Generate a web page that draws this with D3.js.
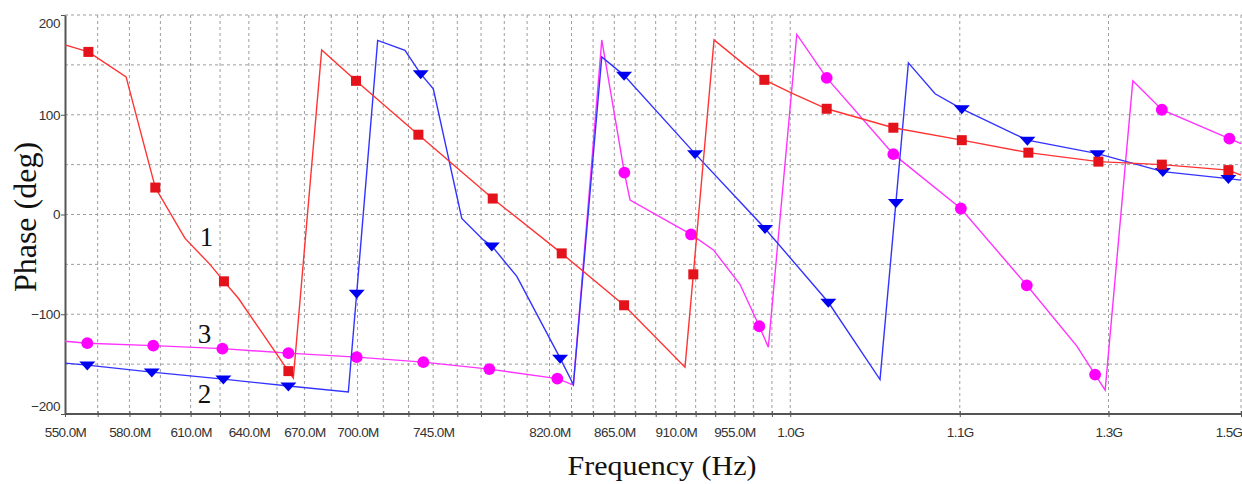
<!DOCTYPE html>
<html>
<head>
<meta charset="utf-8">
<script src="https://cdn.jsdelivr.net/npm/d3@7/dist/d3.min.js"></script>
<style>
  body { margin: 0; background: #fff; }
  svg { display: block; }
</style>
</head>
<body>
<svg id="chart" width="1242" height="484"></svg>
<script>
// frequency in MHz, phase in degrees
var redPts = [[550,170],[560.7,163],[578.4,138],[592.5,27],[607.2,-24],[619.8,-50],[627.0,-67],[634.5,-84],
  [661.2,-157],[663.9,-164],[679.6,165],[699.1,134],[736.0,80],[782.5,16],[828.3,-39],[872.0,-91],
  [916.9,-153],[923.2,-60],[939.1,175],[962.1,151],[978.9,135],[1002.6,121],[1030.5,106],[1088.7,87],
  [1151.9,74.5],[1216.9,62],[1289.2,53],[1358.4,50],[1435.0,44.5],[1450,39.5]];
var redMarks = [1,3,6,8,11,12,13,14,15,17,20,22,23,24,25,26,27,28];

var bluePts = [[550,-149],[560.2,-151],[590.8,-158],[626.7,-165],[661.2,-172],[694.7,-178],[699.5,-79],
  [711.7,174.5],[727.9,164.5],[737.4,141],[745.1,126],[762.8,-4],[776.5,-25.5],[781.9,-31.5],[798.2,-62],
  [827.2,-144],[836.3,-170.5],[856.1,158],[872.0,139.5],[924.5,61],[979.4,-14],[1031.9,-88],[1076.8,-165.5],
  [1091,12],[1102.3,152],[1126.8,121],[1151.9,106],[1215.9,74.5],[1288.2,61],[1359.5,43],[1435.0,36],[1450,34.5]];
var blueMarks = [1,2,3,4,6,9,13,15,18,19,20,21,23,26,27,28,29,30];

var pinkPts = [[550,-127],[560.2,-129],[591.5,-131.5],[626.2,-134.5],[661.2,-139],[699.5,-143],[739.0,-148],
  [780.3,-155],[825.3,-164.5],[836.3,-171],[856.1,175],[872.2,42],[876.3,14.5],[921.5,-20],[938.6,-35.5],
  [959.4,-70],[974.8,-112],[982.1,-133],[1005.4,180.5],[1030.5,137],[1088.7,60.5],[1151.0,6],[1215.3,-71],
  [1266.5,-132],[1285.7,-160.5],[1296.4,-176],[1326.3,134],[1358.4,105],[1436.2,76],[1450,71]];
var pinkMarks = [1,2,3,4,5,6,7,8,11,13,16,19,20,21,22,24,27,28];

var xTicks = d3.range(550, 1001, 15).concat([1150, 1300, 1450]);
var xLabelVals = [550,580,610,640,670,700,745,820,865,910,955,1000,1150,1300,1450];
var xLabelText = ["550.0M","580.0M","610.0M","640.0M","670.0M","700.0M","745.0M","820.0M",
  "865.0M","910.0M","955.0M","1.0G","1.1G","1.3G","1.5G"];
var yLabelVals = [-200,-100,0,100,200];
var yGrid = [-150,-100,-50,0,50,100,150,200];

var curveNames = [{t:"1", f:618, p:-31.5}, {t:"3", f:617, p:-128.5}, {t:"2", f:617, p:-188.5}];

var svg = d3.select("#chart");
var padL = 65, padR = 1241, padT = 15, padB = 414;

var x = d3.scaleLog().domain([550, 1450]).range([padL, padR]);
var y = d3.scaleLinear().domain([-200, 200]).range([padB, padT]);

// grid
svg.append("g").selectAll("line").data(xTicks.slice(1)).enter().append("line")
  .attr("x1", d => x(d)).attr("x2", d => x(d))
  .attr("y1", padT).attr("y2", padB)
  .attr("stroke", "#9e9e9e").attr("stroke-dasharray", "3,3");
svg.append("g").selectAll("line").data(yGrid).enter().append("line")
  .attr("x1", padL).attr("x2", 1242)
  .attr("y1", d => y(d)).attr("y2", d => y(d))
  .attr("stroke", "#9e9e9e").attr("stroke-dasharray", "3,3");

// axes
var xAxis = d3.axisBottom(x).tickValues(xTicks).tickSizeInner(3).tickSizeOuter(0).tickPadding(10)
  .tickFormat(function (d) {
    var i = xLabelVals.indexOf(d);
    return i < 0 ? "" : xLabelText[i];
  });
var gx = svg.append("g").attr("transform", "translate(0," + padB + ")").call(xAxis);
gx.select(".domain").attr("d", "M" + padL + ",0H1242").attr("stroke", "#555").attr("stroke-width", 2);
gx.selectAll(".tick line").attr("stroke", "#555").attr("y1", -3);
gx.selectAll(".tick text").attr("fill", "#333").style("font-family", "Liberation Sans, Arial, sans-serif")
  .style("font-size", "13.5px").style("letter-spacing", "-0.6px");
gx.selectAll(".tick text").filter(d => d === 1450).attr("text-anchor", "end").attr("x", 1);

var yAxis = d3.axisLeft(y).tickValues(yLabelVals).tickSizeInner(4).tickSizeOuter(0).tickPadding(1);
var gy = svg.append("g").attr("transform", "translate(" + padL + ",0)").call(yAxis);
gy.select(".domain").attr("stroke", "#555").attr("stroke-width", 2);
gy.selectAll(".tick line").attr("stroke", "#555");
gy.selectAll(".tick text").attr("fill", "#333").style("font-family", "Liberation Sans, Arial, sans-serif")
  .style("font-size", "13.5px").style("letter-spacing", "-0.4px");
gy.selectAll(".tick text").filter(d => d === 200).attr("dy", "0.95em");
gy.selectAll(".tick text").filter(d => d === -200).attr("dy", "-0.25em");

// series
var line = d3.line().x(d => x(d[0])).y(d => y(d[1]));
var triangle = "M-8,-3.5L8,-3.5L0,5.5Z";

function drawSeries(pts, marks, lineColor, markColor, shape) {
  svg.append("path").datum(pts).attr("d", line)
    .attr("fill", "none").attr("stroke", lineColor).attr("stroke-width", 1.4);
  var mk = svg.append("g").selectAll("path").data(marks.map(i => pts[i])).enter().append("path")
    .attr("transform", d => "translate(" + x(d[0]) + "," + y(d[1]) + ")")
    .attr("fill", markColor);
  if (shape === "tri") mk.attr("d", triangle);
  else if (shape === "square") mk.attr("d", d3.symbol().type(d3.symbolSquare).size(100));
  else mk.attr("d", d3.symbol().type(d3.symbolCircle).size(110));
}

drawSeries(pinkPts, pinkMarks, "#ff33ff", "#ff00ff", "circle");
drawSeries(bluePts, blueMarks, "#3333ff", "#0000f0", "tri");
drawSeries(redPts, redMarks, "#ff3333", "#e3121b", "square");

// curve numbers
svg.append("g").selectAll("text").data(curveNames).enter().append("text")
  .attr("x", d => x(d.f)).attr("y", d => y(d.p))
  .attr("text-anchor", "middle")
  .style("font-family", "Liberation Serif, Times New Roman, serif").style("font-size", "27px")
  .attr("fill", "#111").text(d => d.t);

// titles
svg.append("text").attr("x", 662).attr("y", 475).attr("text-anchor", "middle")
  .attr("textLength", 189).attr("lengthAdjust", "spacingAndGlyphs")
  .style("font-family", "Liberation Serif, Times New Roman, serif").style("font-size", "27px")
  .attr("fill", "#111").text("Frequency (Hz)");
svg.append("text").attr("transform", "translate(36,217) rotate(-90)").attr("text-anchor", "middle")
  .style("font-family", "Liberation Serif, Times New Roman, serif").style("font-size", "32px")
  .attr("fill", "#111").text("Phase (deg)");
</script>
</body>
</html>
